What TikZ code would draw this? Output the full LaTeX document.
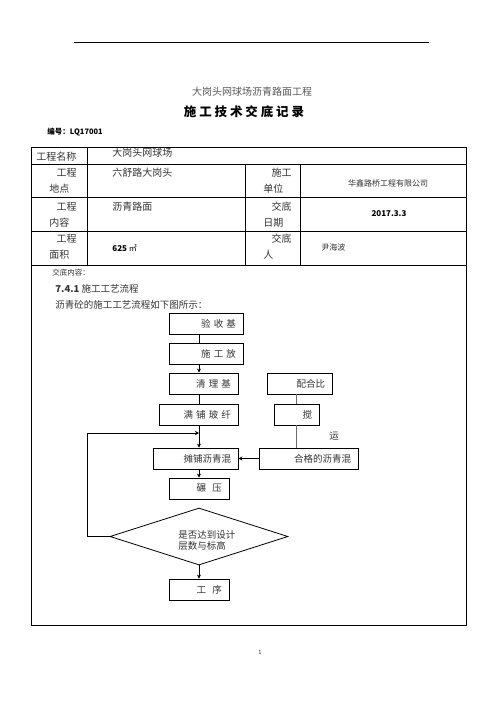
\documentclass[tikz,border=0pt]{standalone}
\usepackage{fontspec}
\setmainfont{Noto Sans CJK SC}
\usepackage{tikz}
\usetikzlibrary{positioning, arrows.meta, shapes.geometric, calc}
\usepackage{xcolor}

\begin{document}
\begin{tikzpicture}[x=1pt, y=-1pt, font=\fontsize{9.5}{11}\selectfont, line width=0.8pt,
  txt/.style={text=black!80, inner sep=0pt},
  fbox/.style={draw, text=black!80, minimum height=21pt, inner xsep=7pt, inner ysep=0pt, align=right, text width=#1},
  decide/.style={draw, diamond, aspect=3.1, minimum width=178pt, minimum height=57pt, inner sep=0pt},
  arr/.style={-{Stealth[length=4pt, width=4pt]}}]
  \useasboundingbox (0,0) rectangle (496,702);
  \fill[white] (0,0) rectangle (496,702);
  % page head
  \draw (74,42) -- (429,42);
  \node[txt, text=black!65, font=\fontsize{10}{12}\selectfont] (proj) at (252,92) {大岗头网球场沥青路面工程};
  \node[txt, text=black, font=\fontsize{12.5}{14}\selectfont\bfseries] (title) at (244,112) {施\ 工\ 技\ 术\ 交\ 底\ 记\ 录};
  \node[txt, text=black, anchor=west, font=\fontsize{7.5}{9}\selectfont\bfseries] (code) at (47,132) {编号：LQ17001};
  % table grid
  \draw (31,147) rectangle (466,625);
  \foreach \yy in {164,197,231,265}
    \draw (31,\yy) -- (466,\yy);
  \draw (87,147) -- (87,265);
  \foreach \xx in {245,300}
    \draw (\xx,164) -- (\xx,265);
  \node[txt, anchor=west, font=\fontsize{10}{12}\selectfont] (mc) at (36,157) {工程名称};
  \node[txt, anchor=west, font=\fontsize{10}{12}\selectfont] (mcv) at (112,153) {大岗头网球场};
  \foreach \ya/\yb/\pa/\pb/\qa/\qb [count=\k] in {
    173/189/工程/地点/施工/单位, 207/223/工程/内容/交底/日期,
    239/255/工程/面积/交底/人}
  { \node[txt, anchor=east, font=\fontsize{10}{12}\selectfont] (pa\k) at (77,\ya) {\pa};
    \node[txt, anchor=west, font=\fontsize{10}{12}\selectfont] (pb\k) at (49,\yb) {\pb};
    \node[txt, anchor=east, font=\fontsize{10}{12}\selectfont] (qa\k) at (292,\ya) {\qa};
    \node[txt, anchor=west, font=\fontsize{10}{12}\selectfont] (qb\k) at (263,\yb) {\qb}; }
  \node[txt, anchor=west, font=\fontsize{10}{12}\selectfont] (loc) at (112,173) {六舒路大岗头};
  \node[txt, font=\fontsize{8}{10}\selectfont] (unit) at (388,183) {华鑫路桥工程有限公司};
  \node[txt, anchor=west, font=\fontsize{10}{12}\selectfont] (cont) at (112,207) {沥青路面};
  \node[txt, text=black, font=\fontsize{8}{10}\selectfont\bfseries] (date) at (389,214) {2017.3.3};
  \node[txt, anchor=west, text=black, font=\fontsize{8}{10}\selectfont] (area) at (112,248) {\textbf{625} ㎡};
  \node[txt, anchor=west, font=\fontsize{8}{10}\selectfont] (who) at (321,247) {尹海波};
  % flow text
  \node[txt, anchor=west, font=\fontsize{7.5}{9}\selectfont] (jd) at (52,273) {交底内容：};
  \node[txt, anchor=west] (sec) at (55,289) {\textbf{7.4.1} 施工工艺流程};
  \node[txt, anchor=west] (intro) at (55,305) {沥青砼的施工工艺流程如下图所示：};
  \node[fbox=60pt] (ys) at (206,323.5) {验 收 基};
  \node[fbox=60pt] (fy) at (206,353.5) {施 工 放};
  \node[fbox=55pt] (ql) at (203.5,383.5) {清 理 基};
  \node[fbox=65pt] (mp) at (198.5,414.5) {满 铺 玻 纤};
  \node[fbox=71pt] (tp) at (195.5,458.5) {摊铺沥青混};
  \node[fbox=46pt] (ny) at (199,488.5) {碾\ \ 压};
  \node[decide] (pd) at (199,536.5) {};
  \node[txt, anchor=west, align=left] (pdt) at (178,540) {是否达到设计\\层数与标高};
  \node[fbox=46pt] (gx) at (199,589.5) {工\ \ 序};
  \node[fbox=51pt] (phb) at (299.5,383.5) {配合比};
  \node[fbox=31pt] (jb) at (296.5,414.5) {搅};
  \node[fbox=85pt] (hg) at (308.5,458.5) {合格的沥青混};
  \node[txt] (yun) at (334,436) {运};
  \coordinate (fb) at (199,433);
  \draw (ys.south -| ny) -- (fy.north -| ny);
  \draw[arr] (fy.south -| ny) -- (ql.north -| ny);
  \draw (ql.south -| ny) -- (mp.north -| ny);
  \draw[arr] (mp.south -| ny) -- (tp.north -| ny);
  \draw[arr] (pd.west) -- ++(-22,0) |- (fb);
  \draw[arr] (tp.south -| ny) -- (ny.north);
  \draw[arr] (pd.south) -- (gx.north);
  \draw[arr] (hg.west) -- (tp.east);
  \draw[black!58, line width=1.8pt] (phb.south -| jb) -- (jb.north);
  \draw[black!58, line width=1.8pt] (jb.south) -- (hg.north -| jb);
  \node[txt, font=\fontsize{7}{8}\selectfont\ttfamily] (pg) at (260,652) {1};
\end{tikzpicture}
\end{document}
